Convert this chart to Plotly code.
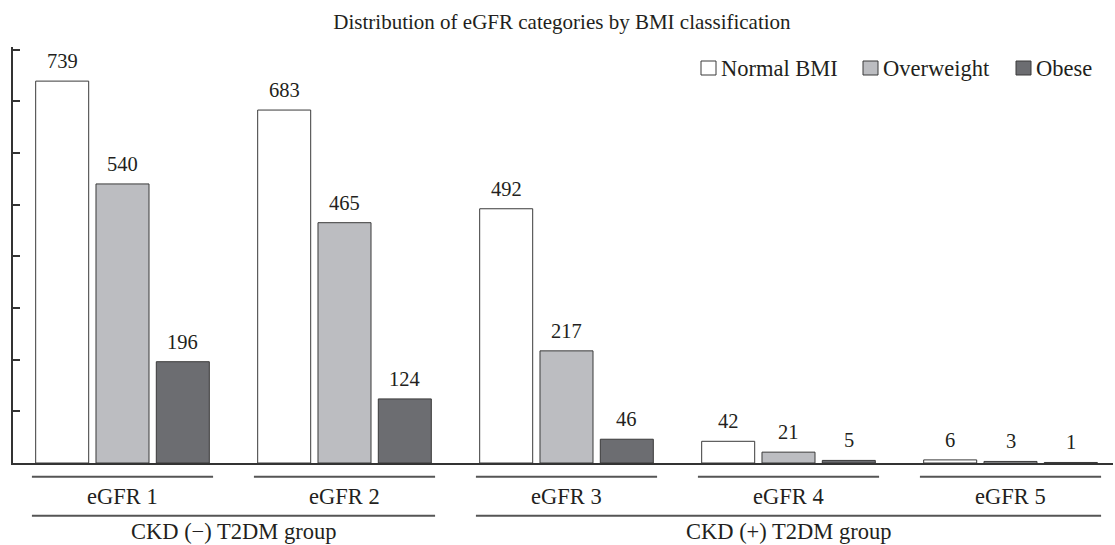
import plotly.graph_objects as go

categories = ["eGFR 1", "eGFR 2", "eGFR 3", "eGFR 4", "eGFR 5"]
normal_bmi = [739, 683, 492, 42, 6]
overweight = [540, 465, 217, 21, 3]
obese = [196, 124, 46, 5, 1]
series_names = ["Normal BMI", "Overweight", "Obese"]
groups = [("CKD (\u2212) T2DM group", 0, 1), ("CKD (+) T2DM group", 2, 4)]

colors = ["#ffffff", "#bcbdc1", "#6c6d71"]
edge = "#3a3a3a"
FONT = "Liberation Serif"
TXT = "#231f20"
W, H = 1115, 545
ML, MR, MT, MB = 13, 2, 47, 82
PW, PH = W - ML - MR, H - MT - MB
BARGAP, GROUPGAP = 0.185, 0.121

def px_x(px):
    return (px - ML) / PW

def px_y(py):
    return (H - MB - py) / PH

fig = go.Figure()
all_vals = [normal_bmi, overweight, obese]
annotations = []
slot = (1 - BARGAP) / len(all_vals)
for k, (name, vals, col) in enumerate(zip(series_names, all_vals, colors)):
    fig.add_trace(go.Bar(
        x=list(range(len(categories))), y=vals, name=name,
        marker=dict(color=col, line=dict(color=edge, width=1)),
        showlegend=False, hoverinfo="skip",
    ))
    for i, v in enumerate(vals):
        annotations.append(dict(text=str(v), xref="x", yref="y",
                                x=i + (k - 1) * slot, y=v, yshift=20,
                                xanchor="center", yanchor="middle", showarrow=False,
                                font=dict(family=FONT, size=20.5, color=TXT)))

shapes = []
half = 0.408
line_col = "#555555"
for i, c in enumerate(categories):
    shapes.append(dict(type="line", xref="x", yref="paper", x0=i - half, x1=i + half,
                       y0=px_y(476.8), y1=px_y(476.8), line=dict(color=line_col, width=2)))
    annotations.append(dict(text=c, xref="x", yref="paper", x=i, y=px_y(496),
                            xanchor="center", yanchor="middle", showarrow=False,
                            font=dict(family=FONT, size=22.5, color=TXT)))
for label, a, b in groups:
    shapes.append(dict(type="line", xref="x", yref="paper", x0=a - half, x1=b + half,
                       y0=px_y(515.7), y1=px_y(515.7), line=dict(color=line_col, width=2)))
    annotations.append(dict(text=label, xref="x", yref="paper", x=(a + b) / 2, y=px_y(531),
                            xanchor="center", yanchor="middle", showarrow=False,
                            font=dict(family=FONT, size=22.5, color=TXT)))

# custom legend
leg = [(701, 716, 719), (863, 878, 881), (1016, 1031, 1034)]
for (x0, x1, tx), name, col in zip(leg, series_names, colors):
    shapes.append(dict(type="rect", xref="paper", yref="paper",
                       x0=px_x(x0), x1=px_x(x1), y0=px_y(75), y1=px_y(61),
                       fillcolor=col, line=dict(color=edge, width=1)))
    annotations.append(dict(text=name, xref="paper", yref="paper", x=px_x(tx), y=px_y(68),
                            xanchor="left", yanchor="middle", showarrow=False,
                            font=dict(family=FONT, size=22.5, color=TXT)))

fig.update_layout(
    width=W, height=H,
    margin=dict(l=ML, r=MR, t=MT, b=MB),
    paper_bgcolor="white", plot_bgcolor="white",
    barmode="group", bargap=BARGAP, bargroupgap=GROUPGAP,
    title=dict(text="Distribution of eGFR categories by BMI classification",
               x=562 / W, xanchor="center", y=1 - 22 / H, yanchor="middle",
               font=dict(family=FONT, size=21, color=TXT)),
    xaxis=dict(range=[(ML - 122.5) / 222, (W - MR - 122.5) / 222],
               showticklabels=False, ticks="", showgrid=False, zeroline=False,
               showline=True, linecolor="#333333", linewidth=1.5, fixedrange=True),
    yaxis=dict(range=[0, 805], tick0=0, dtick=100, ticks="inside", ticklen=7,
               tickcolor="#333333", tickwidth=1.5, showticklabels=False,
               showgrid=False, zeroline=False, showline=True,
               linecolor="#333333", linewidth=1.5, fixedrange=True),
    shapes=shapes, annotations=annotations,
    font=dict(family=FONT, color=TXT),
)

fig.write_html("out.html", config={"displayModeBar": False},
               post_script="document.body.style.margin='0';document.body.style.overflow='hidden';")
